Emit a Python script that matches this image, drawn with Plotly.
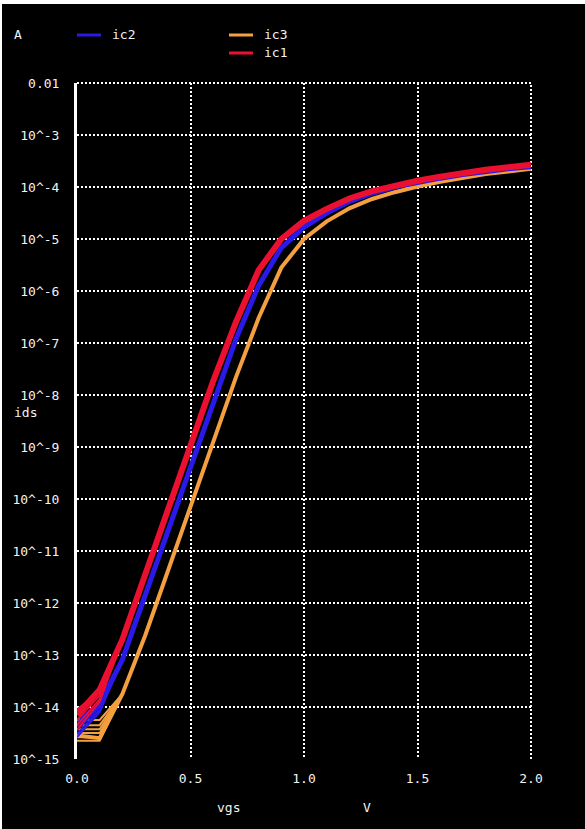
import plotly.graph_objects as go

# Gate sweep (V) and drain current per corner, stored as log10(A)
vgs = [0.0, 0.1, 0.2, 0.3, 0.4, 0.5, 0.6, 0.7, 0.8, 0.9, 1.0,
       1.1, 1.2, 1.3, 1.4, 1.5, 1.6, 1.7, 1.8, 1.9, 2.0]

ic1_log10 = [-14.15, -13.67, -12.70, -11.46, -10.22, -8.98, -7.73, -6.60, -5.60, -5.00, -4.65,
             -4.42, -4.22, -4.08, -3.97, -3.88, -3.80, -3.73, -3.67, -3.62, -3.57]
ic2_log10 = [-14.35, -13.95, -13.09, -11.85, -10.62, -9.38, -8.15, -6.93, -5.90, -5.17, -4.77,
             -4.50, -4.28, -4.12, -4.00, -3.91, -3.83, -3.76, -3.70, -3.65, -3.61]
ic3_log10 = [-14.55, -14.60, -13.75, -12.63, -11.39, -10.15, -8.91, -7.66, -6.52, -5.55, -5.00,
             -4.66, -4.41, -4.23, -4.10, -3.99, -3.90, -3.82, -3.75, -3.70, -3.65]

# Leakage-floor spread of the other runs at vgs = 0.0 and 0.1 (log10 A)
ic1_floor = [[-14.05, -13.70], [-14.25, -13.78], [-14.35, -13.85], [-14.44, -13.90]]
ic2_floor = [[-14.25, -13.92], [-14.45, -14.00], [-14.52, -14.05], [-14.58, -14.10]]
ic3_floor = [[-14.25, -14.25], [-14.35, -14.35], [-14.43, -14.43], [-14.50, -14.50],
             [-14.58, -14.58], [-14.65, -14.65]]

series = [
    ("ic3", ic3_log10, ic3_floor, "#f4a040", 4),
    ("ic2", ic2_log10, ic2_floor, "#2a1ae8", 5),
    ("ic1", ic1_log10, ic1_floor, "#ec1030", 6),
]

y_tick_vals = [1e-2, 1e-3, 1e-4, 1e-5, 1e-6, 1e-7, 1e-8, 1e-9, 1e-10,
               1e-11, 1e-12, 1e-13, 1e-14, 1e-15]
y_tick_text = ["0.01", "10^-3", "10^-4", "10^-5", "10^-6", "10^-7", "10^-8", "10^-9",
               "10^-10", "10^-11", "10^-12", "10^-13", "10^-14", "10^-15"]
x_tick_vals = [0.0, 0.5, 1.0, 1.5, 2.0]
x_tick_text = ["0.0", "0.5", "1.0", "1.5", "2.0"]

W, H = 585, 829
L, R, T, B = 77, 54, 83, 70
PW, PH = W - L - R, H - T - B


def px_x(px):
    return (px - L) / PW


def px_y(py):
    return (H - B - py) / PH


FONT = "DejaVu Sans Mono"
FG = "#f2f2f2"
GRID_DASH = "2px,2px"

fig = go.Figure()
for name, logs, floors, color, width in series:
    for f in floors:
        fig.add_trace(go.Scatter(
            x=vgs[:3], y=[10 ** f[0], 10 ** f[1], 10 ** logs[2]],
            mode="lines", line=dict(color=color, width=2),
            showlegend=False, hoverinfo="skip"))
    fig.add_trace(go.Scatter(
        x=vgs, y=[10 ** v for v in logs], name=name, mode="lines",
        line=dict(color=color, width=width), showlegend=False))

shapes = [
    # thin light frame at the top and left of the canvas
    dict(type="rect", xref="paper", yref="paper", x0=px_x(0), x1=px_x(W),
         y0=px_y(4), y1=px_y(0), fillcolor="white", line_width=0, layer="above"),
    dict(type="rect", xref="paper", yref="paper", x0=px_x(0), x1=px_x(2),
         y0=px_y(H), y1=px_y(0), fillcolor="white", line_width=0, layer="above"),
    # dotted grid lines along the top and right edges of the plot area
    dict(type="line", xref="paper", yref="paper", x0=0, x1=1, y0=1, y1=1,
         line=dict(color="white", width=2, dash=GRID_DASH), layer="below"),
    dict(type="line", xref="paper", yref="paper", x0=1, x1=1, y0=0, y1=1,
         line=dict(color="white", width=2, dash=GRID_DASH), layer="below"),
]

annotations = [
    dict(text="A", x=px_x(12), y=px_y(34), xanchor="left", yanchor="middle"),
    dict(text="ids", x=px_x(12), y=px_y(412), xanchor="left", yanchor="middle"),
    dict(text="vgs", x=px_x(228), y=px_y(807), xanchor="center", yanchor="middle"),
    dict(text="V", x=px_x(367), y=px_y(807), xanchor="center", yanchor="middle"),
]

# legend: short colour bar followed by the trace name
legend_items = [("ic2", "#2a1ae8", 77, 33), ("ic3", "#f4a040", 229, 33), ("ic1", "#ec1030", 229, 51)]
for name, color, lx, ly in legend_items:
    shapes.append(dict(type="line", xref="paper", yref="paper",
                       x0=px_x(lx), x1=px_x(lx + 24), y0=px_y(ly + 2), y1=px_y(ly + 2),
                       line=dict(color=color, width=3)))
    annotations.append(dict(text=name, x=px_x(lx + 33), y=px_y(ly + 1),
                            xanchor="left", yanchor="middle"))

for a in annotations:
    a.update(xref="paper", yref="paper", showarrow=False,
             font=dict(family=FONT, size=13, color=FG))

fig.update_layout(
    width=W, height=H,
    margin=dict(l=L, r=R, t=T, b=B, pad=0),
    paper_bgcolor="black", plot_bgcolor="black",
    shapes=shapes, annotations=annotations,
    showlegend=False,
    xaxis=dict(range=[0, 2.0], tickvals=x_tick_vals, ticktext=x_tick_text,
               showgrid=True, gridcolor="white", gridwidth=2, griddash=GRID_DASH,
               zeroline=False, showline=False, ticks="", ticklabelstandoff=10,
               tickfont=dict(family=FONT, size=13, color=FG)),
    yaxis=dict(type="log", range=[-15, -2], tickvals=y_tick_vals, ticktext=y_tick_text,
               showgrid=True, gridcolor="white", gridwidth=2, griddash=GRID_DASH,
               zeroline=False, showline=True, linecolor="white", linewidth=3,
               ticks="", ticklabelstandoff=12,
               tickfont=dict(family=FONT, size=13, color=FG)),
)

fig.write_html("out.html")
